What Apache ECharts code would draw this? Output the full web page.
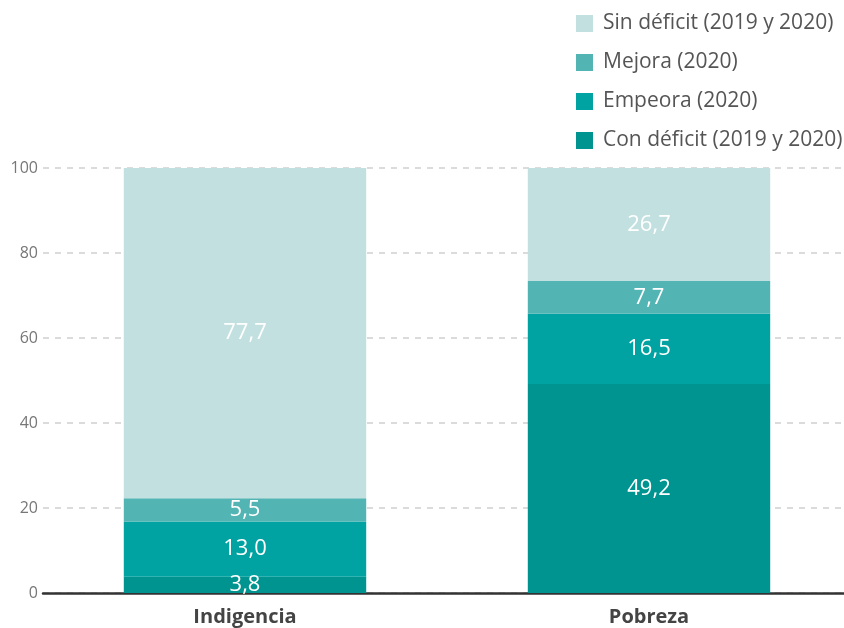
<!DOCTYPE html>
<html>
<head>
<meta charset="utf-8">
<script src="https://cdn.jsdelivr.net/npm/echarts@6/dist/echarts.min.js"></script>
<style>html,body{margin:0;padding:0;background:#fff;overflow:hidden;width:844px;height:628px}#c{width:851px;height:628px}</style>
</head>
<body>
<div id="c"></div>
<script>
var categories = ['Indigencia', 'Pobreza'];
var conDeficit = [3.8, 49.2];
var empeora = [13.0, 16.5];
var mejora = [5.5, 7.7];
var sinDeficit = [77.7, 26.7];
var yTicks = [0, 20, 40, 60, 80, 100];

var names = ['Con déficit (2019 y 2020)', 'Empeora (2020)', 'Mejora (2020)', 'Sin déficit (2019 y 2020)'];
var colors = ['#009490', '#00a3a1', '#53b4b4', '#c2e0e0'];
var values = [conDeficit, empeora, mejora, sinDeficit];
var FONT = '"Open Sans", Lato, sans-serif';

var series = values.map(function (v, i) {
  return {
    name: names[i],
    type: 'bar',
    stack: 'total',
    barWidth: '60%',
    data: v,
    itemStyle: { color: colors[i] },
    label: {
      show: true,
      position: 'inside',
      color: '#fff',
      fontSize: 22,
      fontFamily: FONT,
      formatter: function (p) { return p.value.toFixed(1).replace('.', ','); }
    }
  };
});

var chart = echarts.init(document.getElementById('c'));
chart.setOption({
  animation: false,
  textStyle: { fontFamily: FONT },
  legend: {
    orient: 'vertical',
    left: 571,
    top: 4,
    itemWidth: 17,
    itemHeight: 17,
    itemGap: 10,
    icon: 'rect',
    data: names.slice().reverse(),
    textStyle: { fontSize: 21, lineHeight: 29, color: '#555', fontFamily: FONT, padding: [0, 0, 0, 5] }
  },
  grid: { left: 43, right: 0, top: 168, bottom: 35, containLabel: false },
  xAxis: {
    type: 'category',
    data: categories,
    axisLine: { lineStyle: { color: '#333', width: 2.5 } },
    axisTick: { show: false },
    axisLabel: { fontSize: 20, fontWeight: 'bold', color: '#444', margin: 14, fontFamily: FONT }
  },
  yAxis: {
    type: 'value',
    min: yTicks[0],
    max: yTicks[yTicks.length - 1],
    interval: 20,
    axisLine: { show: false },
    axisTick: { show: false },
    axisLabel: { fontSize: 16, color: '#777', margin: 5, fontFamily: FONT },
    splitLine: { lineStyle: { color: '#cfcfcf', type: [6, 6], width: 1.5 } }
  },
  series: series
});
</script>
</body>
</html>
